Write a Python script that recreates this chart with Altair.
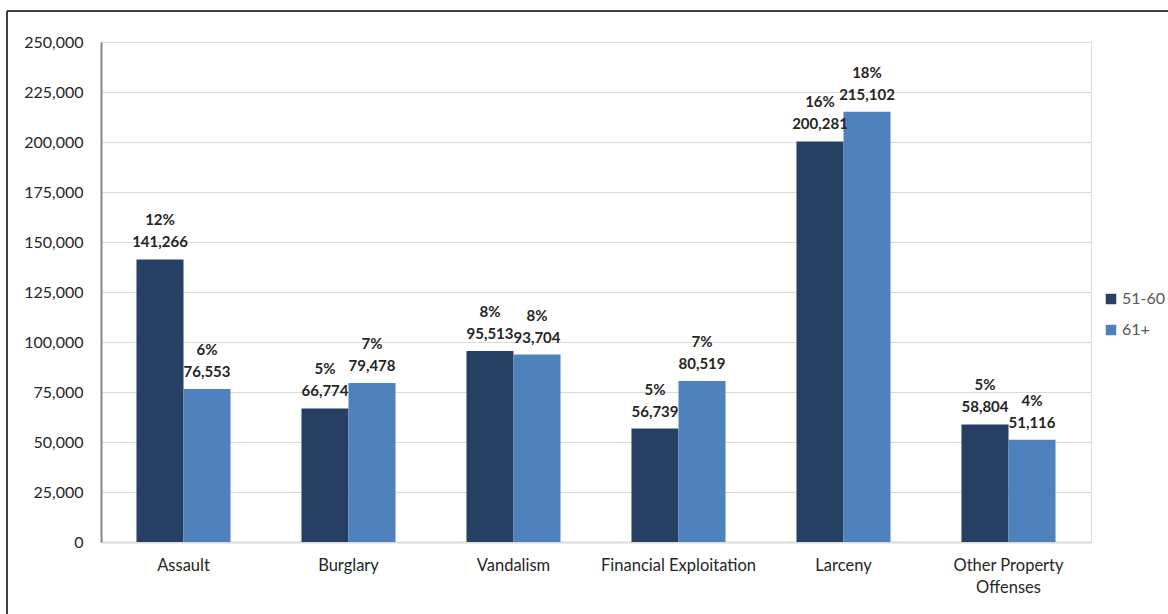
import altair as alt
import pandas as pd

categories = ["Assault", "Burglary", "Vandalism", "Financial Exploitation",
              "Larceny", "Other Property Offenses"]
groups = ["51-60", "61+"]
counts_51_60 = [141266, 66774, 95513, 56739, 200281, 58804]
counts_61_up = [76553, 79478, 93704, 80519, 215102, 51116]
pct_51_60 = ["12%", "5%", "8%", "5%", "16%", "5%"]
pct_61_up = ["6%", "7%", "8%", "7%", "18%", "4%"]
colors = ["#264064", "#4F81BD"]

rows = []
for i, cat in enumerate(categories):
    for grp, counts, pcts in ((groups[0], counts_51_60, pct_51_60),
                              (groups[1], counts_61_up, pct_61_up)):
        rows.append({"category": cat, "group": grp, "count": counts[i],
                     "pct": pcts[i]})
df = pd.DataFrame(rows)

FONT = "Lato"

x_enc = alt.X("category:N", sort=categories, title=None,
              scale=alt.Scale(paddingInner=0.43, paddingOuter=0.215),
              axis=alt.Axis(labelAngle=0, ticks=False, domainColor="#D9D9D9",
                            domainWidth=2, labelPadding=15, labelFontSize=16.5,
                            labelColor="#262626", labelLineHeight=22,
                            labelExpr="datum.label == 'Other Property Offenses' ? ['Other Property', 'Offenses'] : datum.label"))
y_enc = alt.Y("count:Q", title=None,
              scale=alt.Scale(domain=[0, 250000], nice=False),
              axis=alt.Axis(values=list(range(0, 250001, 25000)), format=",.0f",
                            ticks=False, domainColor="#868686", domainWidth=2,
                            labelPadding=18, labelFontSize=16,
                            labelColor="#262626", gridColor="#D9D9D9"))
off_enc = alt.XOffset("group:N", sort=groups)

base = alt.Chart(df)

bars = base.mark_bar().encode(
    x=x_enc,
    y=y_enc,
    xOffset=off_enc,
    color=alt.Color("group:N", sort=groups,
                    scale=alt.Scale(domain=groups, range=colors),
                    legend=alt.Legend(title=None, orient="none", legendX=1002,
                                      legendY=249, symbolType="square",
                                      symbolSize=110, symbolStrokeWidth=0,
                                      labelFontSize=16, labelColor="#595959",
                                      rowPadding=15, labelOffset=3)),
)

# value labels: count just above the bar, share one line higher
count_labels = base.mark_text(baseline="middle", dy=-17, fontSize=15,
                              fontWeight="bold", color="#262626",
                              font=FONT).encode(
    x=x_enc, y=y_enc, xOffset=off_enc,
    text=alt.Text("count:Q", format=","),
)
pct_labels = base.mark_text(baseline="middle", dy=-39, fontSize=15,
                            fontWeight="bold", color="#262626",
                            font=FONT).encode(
    x=x_enc, y=y_enc, xOffset=off_enc,
    text="pct:N",
)

# outer frame lines along the top and left edges
frame_top = alt.Chart(df).mark_rule(color="#404040", strokeWidth=2).encode(
    x=alt.value(-94), x2=alt.value(1067), y=alt.value(-31))
frame_left = alt.Chart(df).mark_rule(color="#404040", strokeWidth=2).encode(
    x=alt.value(-94), y=alt.value(-31), y2=alt.value(572))

chart = alt.layer(bars, count_labels, pct_labels, frame_top, frame_left).properties(
    width=990, height=500,
    autosize=alt.AutoSizeParams(type="none"),
    padding={"left": 101, "top": 42, "right": 77, "bottom": 72},
).configure_view(stroke=None).configure(font=FONT)

chart.save("out.html", embed_options={"renderer": "svg", "actions": False})
